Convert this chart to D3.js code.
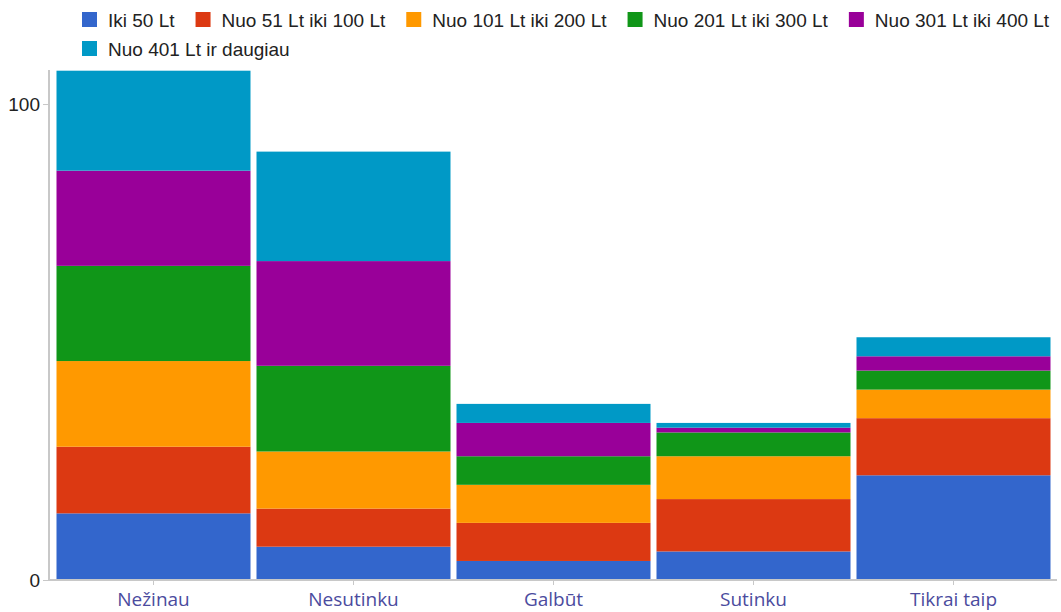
<!DOCTYPE html>
<html>
<head>
<meta charset="utf-8">
<script src="https://cdn.jsdelivr.net/npm/d3@7"></script>
<style>
  html, body { margin: 0; padding: 0; background: #fff; }
  svg { display: block; }
</style>
</head>
<body>
<svg id="chart" width="1061" height="612"></svg>
<script>
// Answers (categories) and spending groups (stacked series)
const categories = ["Nežinau", "Nesutinku", "Galbūt", "Sutinku", "Tikrai taip"];
const seriesNames = [
  "Iki 50 Lt",
  "Nuo 51 Lt iki 100 Lt",
  "Nuo 101 Lt iki 200 Lt",
  "Nuo 201 Lt iki 300 Lt",
  "Nuo 301 Lt iki 400 Lt",
  "Nuo 401 Lt ir daugiau"
];
const iki50     = [14, 7, 4, 6, 22];
const nuo51     = [14, 8, 8, 11, 12];
const nuo101    = [18, 12, 8, 9, 6];
const nuo201    = [20, 18, 6, 5, 4];
const nuo301    = [20, 22, 7, 1, 3];
const nuo401    = [21, 23, 4, 1, 4];
const yTicks = [0, 100];
const colors = ["#3366cc", "#dc3912", "#ff9900", "#109618", "#990099", "#0099c6"];

const seriesValues = [iki50, nuo51, nuo101, nuo201, nuo301, nuo401];
const rows = categories.map((c, i) => {
  const r = { category: c };
  seriesNames.forEach((s, j) => { r[s] = seriesValues[j][i]; });
  return r;
});

const svg = d3.select("#chart");

const x = d3.scaleBand()
  .domain(categories)
  .range([53.5, 1053.5])
  .paddingInner(0.03)
  .paddingOuter(0.015);

const yMax = d3.max(rows, r => d3.sum(seriesNames, s => r[s]));
const y = d3.scaleLinear().domain([0, yMax]).range([580, 70.7]);

const color = d3.scaleOrdinal().domain(seriesNames).range(colors);

const stacked = d3.stack().keys(seriesNames)(rows);

// stacked bars
svg.append("g")
  .selectAll("g")
  .data(stacked)
  .join("g")
  .attr("fill", d => color(d.key))
  .selectAll("rect")
  .data(d => d)
  .join("rect")
  .attr("x", d => x(d.data.category))
  .attr("width", x.bandwidth())
  .attr("y", d => y(d[1]))
  .attr("height", d => y(d[0]) - y(d[1]));

// y axis
const yAxis = svg.append("g")
  .attr("transform", "translate(49,0)")
  .call(d3.axisLeft(y).tickValues(yTicks).tickSize(6).tickPadding(3).tickFormat(d3.format("d")));
yAxis.select(".domain").remove();
yAxis.append("line")
  .attr("x1", 0).attr("x2", 0)
  .attr("y1", 70).attr("y2", 581)
  .attr("stroke", "#c8c8c8").attr("stroke-width", 2);
yAxis.selectAll(".tick line").attr("stroke", "#c8c8c8");
yAxis.selectAll(".tick text")
  .attr("fill", "#222")
  .style("font-family", "'Liberation Sans', Arial, sans-serif")
  .style("font-size", "19px");

// x axis
const xAxis = svg.append("g")
  .attr("transform", "translate(0,580)")
  .call(d3.axisBottom(x).tickSize(5).tickPadding(10));
xAxis.select(".domain").remove();
xAxis.insert("line", ":first-child")
  .attr("x1", 48).attr("x2", 1057)
  .attr("y1", 0).attr("y2", 0)
  .attr("stroke", "#c8c8c8").attr("stroke-width", 2);
xAxis.selectAll(".tick line").attr("stroke", "#c8c8c8");
xAxis.selectAll(".tick text")
  .attr("fill", "#4b4b9e")
  .attr("dy", "0.6em")
  .style("font-family", "'Open Sans', sans-serif")
  .style("font-size", "19px");

// legend, flowing left to right and wrapping
const legend = svg.append("g")
  .style("font-family", "'Liberation Sans', Arial, sans-serif")
  .style("font-size", "19px");
let lx = 82, ly = 12;
const rowH = 29;
seriesNames.forEach(name => {
  const t = legend.append("text")
    .attr("fill", "#222")
    .text(name);
  const w = t.node().getComputedTextLength();
  if (lx + 26 + w > 1058) { lx = 82; ly += rowH; }
  legend.append("rect")
    .attr("x", lx).attr("y", ly)
    .attr("width", 15).attr("height", 15)
    .attr("fill", color(name));
  t.attr("x", lx + 26).attr("y", ly + 15);
  lx += 26 + w + 21;
});
</script>
</body>
</html>
